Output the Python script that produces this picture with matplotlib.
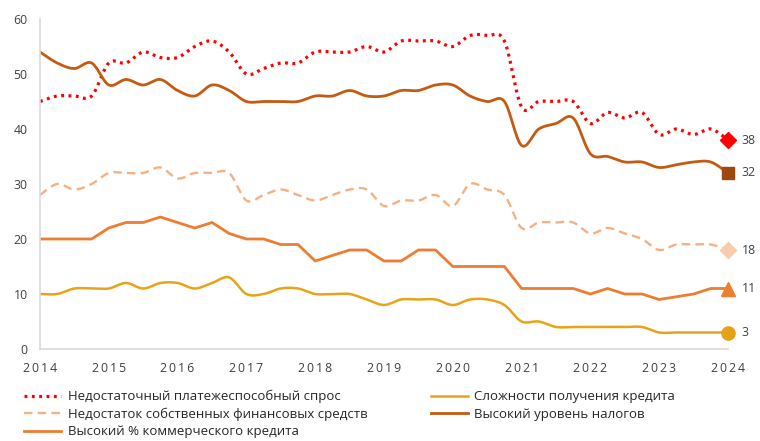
import matplotlib
matplotlib.use('Agg')
import matplotlib.pyplot as plt
import numpy as np

plt.rcParams['font.family'] = ['Open Sans', 'DejaVu Sans']

# quarterly survey shares, %, 2014 Q1 .. 2024 Q1
quarters = np.arange(2014, 2024.01, 0.25)

demand = [45, 46, 46, 46, 52, 52, 54, 53, 53, 55, 56, 54, 50, 51, 52, 52, 54, 54, 54, 55,
          54, 56, 56, 56, 55, 57, 57, 56, 44, 45, 45, 45, 41, 43, 42, 43, 39, 40, 39, 40, 38]
own_funds = [28, 30, 29, 30, 32, 32, 32, 33, 31, 32, 32, 32, 27, 28, 29, 28, 27, 28, 29, 29,
             26, 27, 27, 28, 26, 30, 29, 28, 22, 23, 23, 23, 21, 22, 21, 20, 18, 19, 19, 19, 18]
credit_rate = [20, 20, 20, 20, 22, 23, 23, 24, 23, 22, 23, 21, 20, 20, 19, 19, 16, 17, 18, 18,
               16, 16, 18, 18, 15, 15, 15, 15, 11, 11, 11, 11, 10, 11, 10, 10, 9, 9.5, 10, 11, 11]
credit_access = [10, 10, 11, 11, 11, 12, 11, 12, 12, 11, 12, 13, 10, 10, 11, 11, 10, 10, 10, 9,
                 8, 9, 9, 9, 8, 9, 9, 8, 5, 5, 4, 4, 4, 4, 4, 4, 3, 3, 3, 3, 3]
taxes = [54, 52, 51, 52, 48, 49, 48, 49, 47, 46, 48, 47, 45, 45, 45, 45, 46, 46, 47, 46,
         46, 47, 47, 48, 48, 46, 45, 45, 37, 40, 41, 42, 35.5, 35, 34, 34, 33, 33.5, 34, 34, 32]

labels = ['Недостаточный платежеспособный спрос',
          'Недостаток собственных финансовых средств',
          'Высокий % коммерческого кредита',
          'Сложности получения кредита',
          'Высокий уровень налогов']

year_ticks = list(range(2014, 2025))


def smooth(x, y, n=16):
    # Catmull-Rom style bezier through every point (like a spreadsheet "smoothed line")
    x = np.asarray(x, float)
    y = np.asarray(y, float)
    px = np.r_[x[0], x, x[-1]]
    py = np.r_[y[0], y, y[-1]]
    t = np.linspace(0, 1, n, endpoint=False)[:, None]
    out = []
    for i in range(1, len(x)):
        p0 = np.array([px[i - 1], py[i - 1]])
        p1 = np.array([px[i], py[i]])
        p2 = np.array([px[i + 1], py[i + 1]])
        p3 = np.array([px[i + 2], py[i + 2]])
        c1 = p1 + (p2 - p0) / 6
        c2 = p2 - (p3 - p1) / 6
        seg = ((1 - t) ** 3) * p1 + 3 * ((1 - t) ** 2) * t * c1 + 3 * (1 - t) * t ** 2 * c2 + t ** 3 * p2
        out.append(seg)
    out.append(np.array([[x[-1], y[-1]]]))
    out = np.vstack(out)
    return out[:, 0], out[:, 1]


fig = plt.figure(figsize=(7.6, 4.41), dpi=100)
ax = fig.add_axes([40 / 760, 92 / 441, 688 / 760, 330 / 441])

c_demand, c_own, c_rate, c_access, c_tax = '#FF0000', '#F4B183', '#ED7D31', '#E8A317', '#C55A11'

ax.plot(*smooth(quarters, demand), color=c_demand, lw=2.3, linestyle=(0, (0.9, 1.4)),
        label=labels[0])
ax.plot(*smooth(quarters, own_funds), color=c_own, lw=1.7, linestyle=(0, (3.6, 2.2)),
        label=labels[1])
ax.plot(quarters, credit_rate, color=c_rate, lw=2.0, label=labels[2])
ax.plot(*smooth(quarters, credit_access), color=c_access, lw=1.8, label=labels[3])
ax.plot(*smooth(quarters, taxes), color=c_tax, lw=2.0, label=labels[4])

# end-of-period markers with values
ends = [(demand, 'D', '#FF0000', 8),
        (taxes, 's', '#9E480E', 8.5),
        (own_funds, 'D', '#F8CBAD', 8),
        (credit_rate, '^', '#ED7D31', 10),
        (credit_access, 'o', '#E6A117', 9.5)]
for series, mk, col, ms in ends:
    ax.plot(quarters[-1], series[-1], marker=mk, color=col, markersize=ms,
            linestyle='none', clip_on=False, zorder=5)
    ax.annotate(f'{series[-1]:g}', (quarters[-1], series[-1]), xytext=(10, 0),
                textcoords='offset points', va='center', ha='left',
                fontsize=8.8, color='#404040', annotation_clip=False)

ax.set_xlim(2014, 2024)
ax.set_ylim(0, 60)
ax.set_yticks(range(0, 61, 10))
ax.set_xticks(year_ticks)
ax.set_xticklabels(['\u2009'.join(str(y)) for y in year_ticks])

for s in ['top', 'right']:
    ax.spines[s].set_visible(False)
for s in ['left', 'bottom']:
    ax.spines[s].set_color('#D9D9D9')
    ax.spines[s].set_linewidth(1.2)
ax.tick_params(axis='both', length=0, labelsize=8.8, labelcolor='#404040')
ax.tick_params(axis='y', pad=9)
ax.tick_params(axis='x', pad=9)

ax.legend(ncol=2, loc='upper left', bbox_to_anchor=(24 / 760, 1 - 390 / 441),
          bbox_transform=fig.transFigure, frameon=False, fontsize=9.5,
          handlelength=2.8, handletextpad=0.5, columnspacing=4.8,
          labelspacing=0.33, borderpad=0, borderaxespad=0,
          labelcolor='#262626')

fig.savefig('out.png', dpi=100)
